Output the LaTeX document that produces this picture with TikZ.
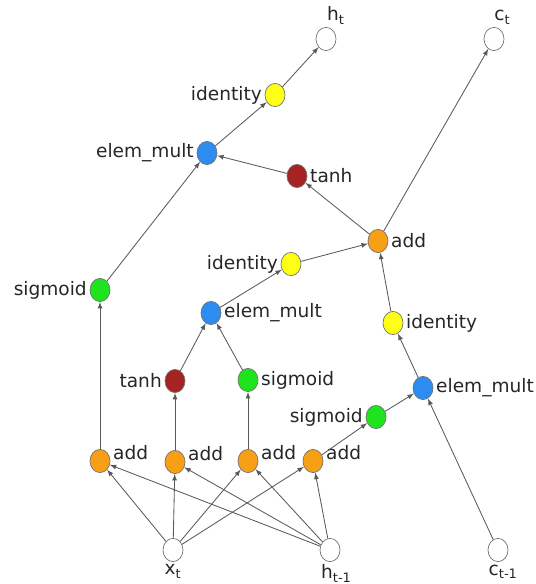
\documentclass[tikz,border=0pt]{standalone}
\usepackage{fontspec}
\setmainfont{DejaVu Sans}
\usepackage{tikz}
\usetikzlibrary{shapes.geometric}
\definecolor{addcol}{RGB}{247,160,22}
\definecolor{idcol}{RGB}{255,255,20}
\definecolor{multcol}{RGB}{45,140,240}
\definecolor{sigcol}{RGB}{30,228,30}
\definecolor{tanhcol}{RGB}{165,35,35}

\begin{document}
\begin{tikzpicture}[x=0.25mm,y=-0.25mm,
    op/.style={ellipse,draw=black!55,line width=0.5pt,minimum width=5mm,minimum height=5.8mm,inner sep=0pt},
    lbl/.style={inner sep=1pt,font=\fontsize{13.2}{16}\selectfont,text=black!85},
    every label/.style={lbl},
    label distance=0.3mm,
    edge/.style={->,>=latex,draw=black!65,line width=0.6pt}]
          \useasboundingbox (0,0) rectangle (536,584);
          % inputs and outputs
          \node[op] (ht) at (326,39) [label={[xshift=2.5mm]above:h\textsubscript{t}}] {};
          \node[op] (ct) at (494,39) [label={[xshift=2.1mm]above:c\textsubscript{t}}] {};
          \node[op] (xt) at (173,550) [label={below:x\textsubscript{t}}] {};
          \node[op] (hp) at (330,550) [label={[xshift=1.6mm]below:h\textsubscript{t-1}}] {};
          \node[op] (cp) at (498,550) [label={[xshift=1.3mm]below:c\textsubscript{t-1}}] {};
          % gates
          \node[op,fill=addcol] (add1) at (100,461) [label={[yshift=2mm]right:add}] {};
          \node[op,fill=addcol] (add2) at (175,462) [label={[yshift=2mm]right:add}] {};
          \node[op,fill=addcol] (add3) at (248,461) [label={[yshift=2mm]right:add}] {};
          \node[op,fill=addcol] (add4) at (313,461) [label={[yshift=2mm]right:add}] {};
          \node[op,fill=sigcol] (sigo) at (100,290) [label=left:sigmoid] {};
          \node[op,fill=tanhcol] (tanhg) at (175,381) [label=left:tanh] {};
          \node[op,fill=sigcol] (sigi) at (248,380) [label=right:sigmoid] {};
          \node[op,fill=sigcol] (sigf) at (376,417) [label=left:sigmoid] {};
          \node[op,fill=multcol] (multi) at (211,313) [label=right:elem\_mult] {};
          \node[op,fill=multcol] (multf) at (423,388) [label=right:elem\_mult] {};
          \node[op,fill=idcol] (idi) at (291,264) [label=left:identity] {};
          \node[op,fill=idcol] (idf) at (393,323) [label=right:identity] {};
          \node[op,fill=addcol] (addc) at (378,241) [label=right:add] {};
          \node[op,fill=tanhcol] (tanhc) at (297,176) [label=right:tanh] {};
          \node[op,fill=multcol] (multo) at (207,153) [label=left:elem\_mult] {};
          \node[op,fill=idcol] (ido) at (275,95) [label=left:identity] {};
          % x and h into the adds
          \draw[edge] (xt) -- (add1);
          \draw[edge] (xt) -- (add2);
          \draw[edge] (xt) -- (add3);
          \draw[edge] (xt) -- (add4);
          \draw[edge] (hp) -- (add1);
          \draw[edge] (hp) -- (add2);
          \draw[edge] (hp) -- (add3);
          \draw[edge] (hp) -- (add4);
          % gates
          \draw[edge] (add1) -- (sigo);
          \draw[edge] (add2) -- (tanhg);
          \draw[edge] (add3) -- (sigi);
          \draw[edge] (add4) -- (sigf);
          \draw[edge] (tanhg) -- (multi);
          \draw[edge] (sigi) -- (multi);
          \draw[edge] (sigf) -- (multf);
          \draw[edge] (cp) -- (multf);
          \draw[edge] (multi) -- (idi);
          \draw[edge] (multf) -- (idf);
          \draw[edge] (idi) -- (addc);
          \draw[edge] (idf) -- (addc);
          \draw[edge] (addc) -- (ct);
          \draw[edge] (addc) -- (tanhc);
          \draw[edge] (tanhc) -- (multo);
          \draw[edge] (sigo) -- (multo);
          \draw[edge] (multo) -- (ido);
          \draw[edge] (ido) -- (ht);
        \end{tikzpicture}
\end{document}
